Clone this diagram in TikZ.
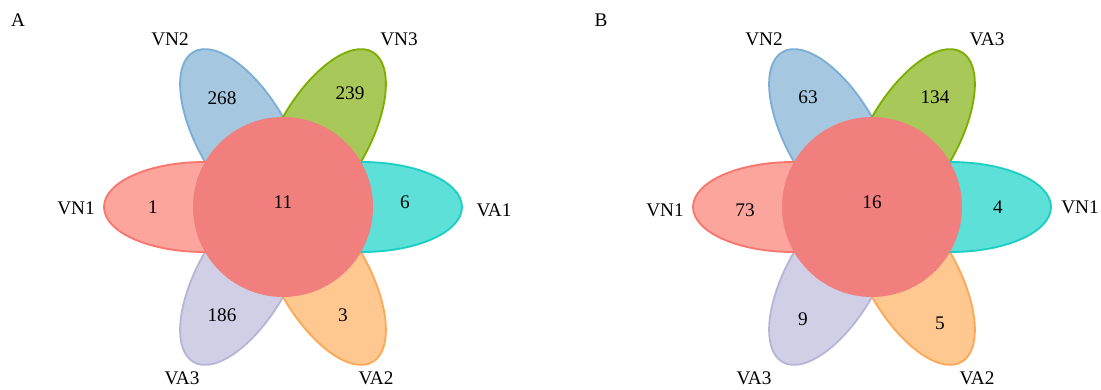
\documentclass[tikz,border=0pt]{standalone}
\usepackage{fontspec}
\setmainfont{Liberation Serif}

\definecolor{vnonefill}{HTML}{FCA59C}
\definecolor{vnoneline}{HTML}{F8766D}
\definecolor{vntwofill}{HTML}{A6C7E0}
\definecolor{vntwoline}{HTML}{7AAED6}
\definecolor{vnthreefill}{HTML}{A8C85A}
\definecolor{vnthreeline}{HTML}{7CAE00}
\definecolor{vaonefill}{HTML}{5CE0D8}
\definecolor{vaoneline}{HTML}{1DCEC4}
\definecolor{vatwofill}{HTML}{FFC891}
\definecolor{vatwoline}{HTML}{FDA855}
\definecolor{vathreefill}{HTML}{D0CFE5}
\definecolor{vathreeline}{HTML}{B8B4D8}
\definecolor{corefill}{HTML}{F07F7D}

\begin{document}
\begin{tikzpicture}[x=0.025cm, y=0.025cm,
  petal/.style={line width=1.3pt},
  core/.style={fill=corefill, draw=none},
  lab/.style={inner sep=0pt, font=\fontsize{13.7}{16}\selectfont},
  num/.style={inner sep=0pt, font=\fontsize{13.7}{16}\selectfont}]

\useasboundingbox (0,0) rectangle (1101,389);

%% panel A
\node[lab] (tagA) at (18,369) {A};
\begin{scope}[shift={(283,182)}]
\draw[petal, fill=vntwofill, draw=vntwoline] (120:79) ellipse [x radius=100, y radius=45, rotate=120];
\draw[petal, fill=vnthreefill, draw=vnthreeline] (60:79) ellipse [x radius=100, y radius=45, rotate=60];
\draw[petal, fill=vathreefill, draw=vathreeline] (240:79) ellipse [x radius=100, y radius=45, rotate=240];
\draw[petal, fill=vatwofill, draw=vatwoline] (300:79) ellipse [x radius=100, y radius=45, rotate=300];
\draw[petal, fill=vnonefill, draw=vnoneline] (180:79) ellipse [x radius=100, y radius=45, rotate=180];
\draw[petal, fill=vaonefill, draw=vaoneline] (0:79) ellipse [x radius=100, y radius=45, rotate=0];
\fill[core] (0,0) circle (90);

\node[lab] (aVNtwo) at (-113,168) {VN2};
\node[lab] (aVNthree) at (116,168) {VN3};
\node[lab] (aVNone) at (-207,-1) {VN1};
\node[lab] (aVAone) at (211,-3) {VA1};
\node[lab] (aVAthree) at (-101,-171) {VA3};
\node[lab] (aVAtwo) at (93,-171) {VA2};

\node[num] (aNtwo) at (-61,109) {268};
\node[num] (aNthree) at (67,114) {239};
\node[num] (aNone) at (-130,0) {1};
\node[num] (aCore) at (0,5) {11};
\node[num] (aAone) at (122,5) {6};
\node[num] (aAthree) at (-61,-108) {186};
\node[num] (aAtwo) at (60,-108) {3};
\end{scope}

%% panel B
\node[lab] (tagB) at (601,369) {B};
\begin{scope}[shift={(872,182)}]
\draw[petal, fill=vntwofill, draw=vntwoline] (120:79) ellipse [x radius=100, y radius=45, rotate=120];
\draw[petal, fill=vnthreefill, draw=vnthreeline] (60:79) ellipse [x radius=100, y radius=45, rotate=60];
\draw[petal, fill=vathreefill, draw=vathreeline] (240:79) ellipse [x radius=100, y radius=45, rotate=240];
\draw[petal, fill=vatwofill, draw=vatwoline] (300:79) ellipse [x radius=100, y radius=45, rotate=300];
\draw[petal, fill=vnonefill, draw=vnoneline] (180:79) ellipse [x radius=100, y radius=45, rotate=180];
\draw[petal, fill=vaonefill, draw=vaoneline] (0:79) ellipse [x radius=100, y radius=45, rotate=0];
\fill[core] (0,0) circle (90);

\node[lab] (bVNtwo) at (-108,168) {VN2};
\node[lab] (bVAthreeTop) at (115,168) {VA3};
\node[lab] (bVNone) at (-207,-3) {VN1};
\node[lab] (bVNoneRight) at (208,0) {VN1};
\node[lab] (bVAthree) at (-118,-171) {VA3};
\node[lab] (bVAtwo) at (105,-171) {VA2};

\node[num] (bNtwo) at (-64,110) {63};
\node[num] (bNthree) at (63,110) {134};
\node[num] (bNone) at (-127,-3) {73};
\node[num] (bCore) at (0,5) {16};
\node[num] (bAone) at (126,0) {4};
\node[num] (bAthree) at (-69,-112) {9};
\node[num] (bAtwo) at (68,-116) {5};
\end{scope}

\end{tikzpicture}
\end{document}
